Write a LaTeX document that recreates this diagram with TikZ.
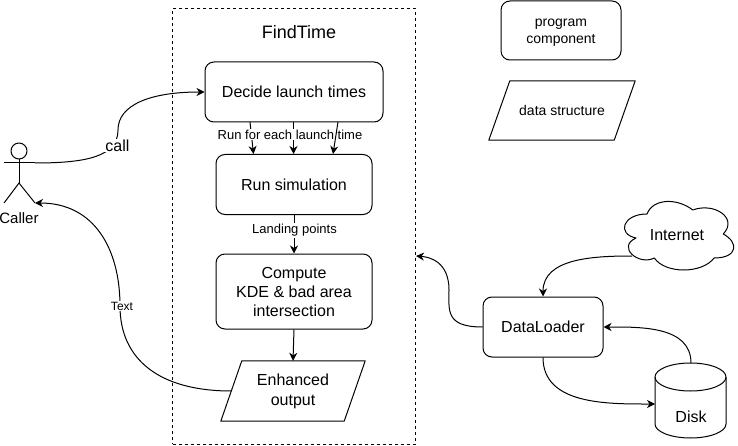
\documentclass[tikz,border=0pt]{standalone}
\usepackage{fontspec}
\setmainfont{Liberation Sans}
\usetikzlibrary{arrows.meta}
\newcommand{\Unit}{1pt}
\newcommand{\Edge}{1pt}
\newcommand{\Slant}{10.5pt}
\definecolor{ink}{HTML}{000000}

\tikzset{
  block/.style={draw=ink,line width=\Edge,rounded corners=9pt,align=center,font=\fontsize{16}{19}\selectfont,inner sep=0pt},
  datablock/.style={align=center,font=\fontsize{16}{20}\selectfont,inner sep=0pt},
  outline/.style={draw=ink,line width=\Edge},
  flow/.style={draw=ink,line width=\Edge,-{Stealth[length=8pt,width=8pt,inset=2.5pt]}},
  edgetext/.style={fill=white,inner sep=1pt,font=\fontsize{13}{15}\selectfont},
}

\begin{document}
\begin{tikzpicture}[x=\Unit,y=\Unit, line join=round]
  \useasboundingbox (0,0) rectangle (738,445);

  % ---- the FindTime frame ---------------------------------------------------
  \node[draw=ink,line width=\Edge,dashed,minimum width=243pt,minimum height=435.5pt,inner sep=0pt] (frame) at (294,218.75) {};
  \node[font=\fontsize{18}{22}\selectfont] (frametitle) at (299,413) {FindTime};
  \coordinate (frameentry) at (416,189);

  % ---- the legend -----------------------------------------------------------
  \node[block,minimum width=120pt,minimum height=59pt] (legendprog) at (561,414.5) {};
  \node[align=center,inner sep=0pt,font=\fontsize{14}{17}\selectfont] (legendprogtext) at (561,412) {program\\component};
  \node[datablock,minimum width=125pt,minimum height=59pt,font=\fontsize{14}{17}\selectfont] (legenddata) at (562,334.5) {data structure};
  \draw[outline] ([xshift=-\Slant]legenddata.south west) -- ([xshift=\Slant]legenddata.north west)
    -- ([xshift=\Slant]legenddata.north east) -- ([xshift=-\Slant]legenddata.south east) -- cycle;

  % ---- inside the frame -----------------------------------------------------
  \node[block,minimum width=178pt,minimum height=60pt] (decide) at (294,353) {Decide launch times};
  \node[block,minimum width=156pt,minimum height=60pt] (runsim) at (294,260.5) {Run simulation};
  \node[block,minimum width=156pt,minimum height=75pt] (compute) at (294,153.5) {Compute\\KDE \& bad area\\intersection};
  \node[datablock,minimum width=123pt,minimum height=60pt] (enhanced) at (293,54) {Enhanced\\output};
  \draw[outline] ([xshift=-\Slant]enhanced.south west) -- ([xshift=\Slant]enhanced.north west)
    -- ([xshift=\Slant]enhanced.north east) -- ([xshift=-\Slant]enhanced.south east) -- cycle;

  % ---- outside the frame ----------------------------------------------------
  \node[block,minimum width=120pt,minimum height=60pt] (dataloader) at (543,118) {DataLoader};

  % The cloud is a closed outline in its own unit box.
  \begin{scope}[shift={(616.5,251)},x=122pt,y=-80pt]
    \draw[outline] (0.25,0.25) .. controls (0.05,0.25) and (0,0.5) .. (0.16,0.55)
      .. controls (0,0.66) and (0.18,0.9) .. (0.31,0.8)
      .. controls (0.4,1) and (0.7,1) .. (0.8,0.8)
      .. controls (1,0.8) and (1,0.6) .. (0.875,0.5)
      .. controls (1,0.3) and (0.8,0.1) .. (0.625,0.2)
      .. controls (0.5,0.05) and (0.3,0.05) .. (0.25,0.25) -- cycle;
  \end{scope}
  \node[font=\fontsize{16}{19}\selectfont] (internet) at (677,210) {Internet};
  \coordinate (cloudexit) at (632,189);

  % Same for the disk: body first, then the rim on top.
  \draw[outline] (655,68) -- (655,21) arc[start angle=180,end angle=360,x radius=35.5,y radius=14] -- (726,68);
  \draw[outline] (690.5,68) ellipse [x radius=35.5,y radius=14];
  \node[font=\fontsize{16}{19}\selectfont] (disk) at (691,28) {Disk};
  \coordinate (disktop) at (691,82);
  \coordinate (diskleft) at (655,41);

  % ---- the caller -----------------------------------------------------------
  \node[draw=ink,line width=\Edge,circle,minimum size=16pt,inner sep=0pt] (callerhead) at (19,294) {};
  \coordinate (callerhip) at (19,262);
  \coordinate (callerhand) at (35,282);
  \coordinate (callerfoot) at (35,242);
  \draw[outline] (callerhead.south) -- (callerhip);
  \draw[outline] (4,282) -- (callerhand);
  \draw[outline] (4,242) -- (callerhip) -- (callerfoot);
  \node[font=\fontsize{15}{18}\selectfont] (callername) at (19,227) {Caller};

  % ---- connectors -----------------------------------------------------------
  \draw[flow] (callerhand) .. controls (85,282) and (118,288) .. (118,315)
    .. controls (118,340) and (150,353) .. (decide.west);
  \node[fill=white,inner sep=1pt,font=\fontsize{16}{18}\selectfont] (calltext) at (117.5,299.5) {call};

  \draw[flow] (enhanced.west) .. controls (160,54) and (120,85) .. (120,139)
    .. controls (120,195) and (95,242) .. (callerfoot);
  \node[edgetext,font=\fontsize{12}{14}\selectfont] (texttext) at (122,139) {Text};

  \coordinate (fanoneout) at (250,323);
  \coordinate (fanonein) at (253.5,291);
  \coordinate (fantwoout) at (293.5,323);
  \coordinate (fantwoin) at (293.5,291);
  \coordinate (fanthreeout) at (338,323);
  \coordinate (fanthreein) at (333,291);
  \draw[flow] (fanoneout) -- (fanonein);
  \draw[flow] (fantwoout) -- (fantwoin);
  \node[edgetext] (eachtext) at (290,310.5) {Run for each launch time};
  \draw[flow] (fanthreeout) -- (fanthreein);

  \draw[flow] (runsim.south) -- (compute.north);
  \node[edgetext] (landingtext) at (294.5,214.5) {Landing points};
  \draw[flow] (compute.south) -- (enhanced.north);

  \draw[flow] (dataloader.west) .. controls (445,118) and (449,135) .. (449,155)
    .. controls (449,183) and (430,188) .. (frameentry);
  \draw[flow] (cloudexit) to[out=180,in=90] (dataloader.north);
  \draw[flow] (disktop) to[out=90,in=0] (dataloader.east);
  \draw[flow] (dataloader.south) to[out=-90,in=180] (diskleft);

\end{tikzpicture}
\end{document}
